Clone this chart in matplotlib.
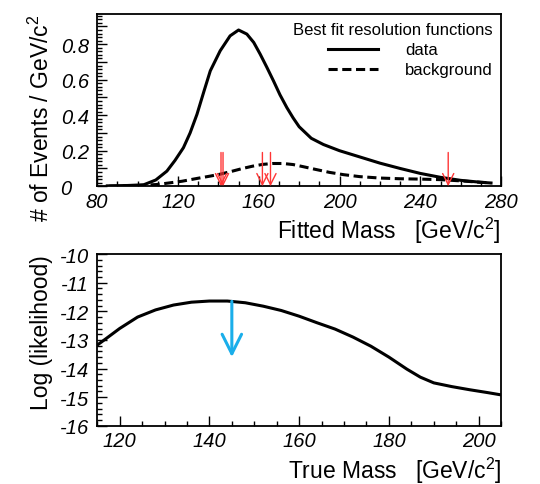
import matplotlib
matplotlib.use("Agg")
import matplotlib.pyplot as plt
from matplotlib.ticker import MultipleLocator, FuncFormatter

plt.rcParams['font.family'] = ['Liberation Sans', 'DejaVu Sans']
plt.rcParams['mathtext.fontset'] = 'custom'
plt.rcParams['mathtext.rm'] = 'Liberation Sans'

# ---- top panel: fitted-mass resolution functions ----
fit_x = [85, 95, 103, 109, 114.5, 118.5, 122.7, 126, 129.4, 133, 136, 140.9, 145.8,
         150, 154.1, 157.5, 160.7, 164, 167.3, 170.5, 173.9, 177, 180, 186, 192, 200,
         210, 220, 230, 240, 250, 260, 270, 275]
data_y = [0.002, 0.004, 0.008, 0.035, 0.085, 0.145, 0.217, 0.30, 0.405, 0.54, 0.65,
          0.763, 0.847, 0.88, 0.857, 0.81, 0.744, 0.67, 0.593, 0.515, 0.443, 0.385,
          0.335, 0.27, 0.235, 0.20, 0.165, 0.13, 0.10, 0.072, 0.05, 0.033, 0.022,
          0.018]
bkg_x = [86, 98, 110, 122, 130, 136, 141, 147, 152, 157, 162, 167, 172, 177, 182,
         188, 195, 202, 210, 220, 230, 240, 250, 260, 270, 275]
bkg_y = [0.0, 0.002, 0.01, 0.028, 0.045, 0.057, 0.068, 0.085, 0.10, 0.113, 0.123,
         0.128, 0.128, 0.122, 0.11, 0.095, 0.078, 0.065, 0.054, 0.046, 0.042, 0.04,
         0.037, 0.03, 0.022, 0.019]
event_masses = [141.3, 142.3, 161.8, 165.8, 253.8]
event_arrow_top = 0.19

# ---- bottom panel: likelihood vs true mass ----
true_x = [115, 117, 120, 124, 128, 132, 136, 140, 144, 148, 152, 156, 160, 164, 168,
          172, 176, 180, 184, 187, 190, 194, 198, 202, 205]
loglik = [-13.18, -12.95, -12.6, -12.2, -11.95, -11.78, -11.68, -11.64, -11.64, -11.7,
          -11.82, -11.97, -12.17, -12.4, -12.62, -12.9, -13.22, -13.6, -14.02, -14.3,
          -14.5, -14.63, -14.74, -14.84, -14.92]
best_mass = 145.0
best_arrow = (-11.65, -13.6)

fig = plt.figure(figsize=(5.4, 4.85), dpi=100)
ax1 = fig.add_axes([0.18, 0.614, 0.748, 0.355])
ax2 = fig.add_axes([0.18, 0.120, 0.748, 0.354])


def style(ax):
    for s in ax.spines.values():
        s.set_linewidth(1.3)
    ax.tick_params(which='both', direction='in', top=False, right=False, width=1.0)
    ax.tick_params(which='major', length=7, labelsize=14.5)
    ax.tick_params(axis='x', which='major', pad=4)
    ax.tick_params(axis='y', which='major', pad=6)
    ax.tick_params(which='minor', length=3.5)
    for lab in ax.get_xticklabels() + ax.get_yticklabels():
        lab.set_fontstyle('italic')


def top_fmt(v, p):
    if abs(v) < 1e-9:
        return '0   '
    return f'{v:.1f}' if round(v * 10) % 2 == 0 else ''


ax1.plot(fit_x, data_y, color='black', lw=2.2, label='data')
ax1.plot(bkg_x, bkg_y, color='black', lw=2.2, ls=(0, (3.0, 1.5)), label='background')
for m in event_masses:
    ax1.annotate('', xy=(m, 0.0), xytext=(m, event_arrow_top),
                 arrowprops=dict(arrowstyle='->,head_length=0.8,head_width=0.4',
                                 color='#ff3535', lw=1.0, shrinkA=0, shrinkB=0))
ax1.set_xlim(80, 280)
ax1.set_ylim(0, 0.97)
ax1.xaxis.set_major_locator(MultipleLocator(40))
ax1.xaxis.set_minor_locator(MultipleLocator(10))
ax1.yaxis.set_major_locator(MultipleLocator(0.1))
ax1.yaxis.set_minor_locator(MultipleLocator(0.02))
ax1.yaxis.set_major_formatter(FuncFormatter(top_fmt))
ax1.set_xlabel(r'Fitted Mass   [GeV/c$^2$]', fontsize=16.5, loc='right', labelpad=3)
ax1.set_ylabel(r'# of Events / GeV/c$^2$', fontsize=16.5, loc='top', labelpad=5)
style(ax1)
leg = ax1.legend(title='Best fit resolution functions', loc='upper right',
                 frameon=False, fontsize=12, title_fontsize=12,
                 alignment='right', handlelength=3.0, handletextpad=1.6,
                 borderaxespad=0.2, borderpad=0.3, labelspacing=0.3)

ax2.plot(true_x, loglik, color='black', lw=2.2)
ax2.annotate('', xy=(best_mass, best_arrow[1]), xytext=(best_mass, best_arrow[0]),
             arrowprops=dict(arrowstyle='->,head_length=1.4,head_width=0.7',
                             color='#1aaeea', lw=2.2, shrinkA=0, shrinkB=0))
ax2.set_xlim(115, 205)
ax2.set_ylim(-16, -10)
ax2.xaxis.set_major_locator(MultipleLocator(20))
ax2.xaxis.set_minor_locator(MultipleLocator(5))
ax2.yaxis.set_major_locator(MultipleLocator(1))
ax2.yaxis.set_minor_locator(MultipleLocator(0.2))
ax2.yaxis.set_major_formatter(FuncFormatter(lambda v, p: f'{v:.0f}'))
ax2.set_xlabel(r'True Mass   [GeV/c$^2$]', fontsize=16.5, loc='right', labelpad=3)
ax2.set_ylabel('Log (likelihood)', fontsize=16.5, loc='top', labelpad=5)
style(ax2)

fig.savefig('out.png', dpi=100)
